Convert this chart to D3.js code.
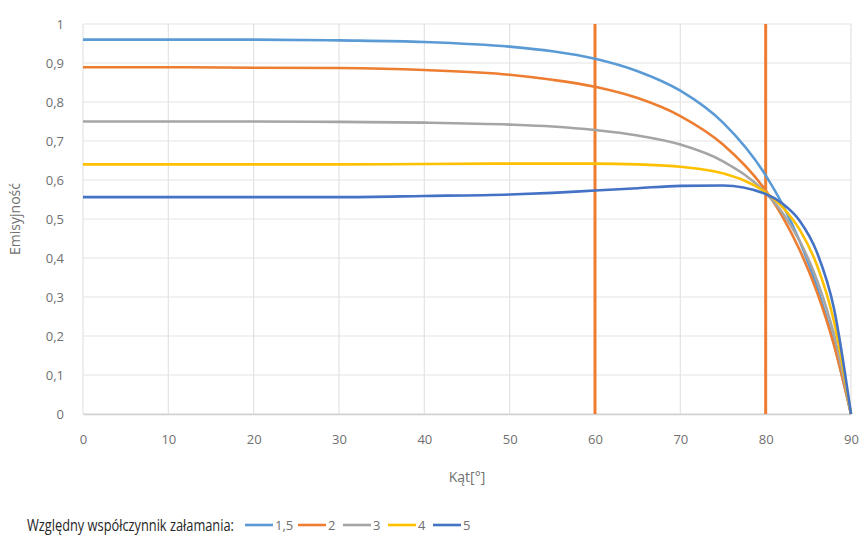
<!DOCTYPE html>
<html>
<head>
<meta charset="utf-8">
<script src="https://cdn.jsdelivr.net/npm/d3@7"></script>
<style>
  html, body { margin: 0; padding: 0; background: #fff; }
  svg { display: block; }
  text { font-family: "Open Sans", "Noto Sans", sans-serif; }
</style>
</head>
<body>
<svg id="chart" width="866" height="543"></svg>
<script>
// Emissivity vs. angle of observation for several relative refractive indices
const angles = [0, 10, 20, 30, 40, 50, 55, 60, 65, 70, 75, 80, 82, 84, 86, 88, 90];
const seriesNames = ["1,5", "2", "3", "4", "5"];
const emis15 = [0.960, 0.960, 0.960, 0.958, 0.954, 0.942, 0.930, 0.911, 0.879, 0.829, 0.747, 0.612, 0.536, 0.442, 0.326, 0.181, 0];
const emis2  = [0.889, 0.889, 0.888, 0.887, 0.882, 0.870, 0.857, 0.839, 0.810, 0.764, 0.691, 0.573, 0.505, 0.420, 0.313, 0.177, 0];
const emis3  = [0.750, 0.750, 0.750, 0.749, 0.747, 0.742, 0.737, 0.728, 0.714, 0.691, 0.648, 0.567, 0.515, 0.443, 0.344, 0.204, 0];
const emis4  = [0.640, 0.640, 0.640, 0.640, 0.641, 0.642, 0.642, 0.642, 0.640, 0.634, 0.617, 0.568, 0.530, 0.472, 0.382, 0.238, 0];
const emis5  = [0.556, 0.556, 0.556, 0.556, 0.559, 0.563, 0.567, 0.573, 0.579, 0.585, 0.586, 0.564, 0.539, 0.495, 0.415, 0.271, 0];
const seriesValues = [emis15, emis2, emis3, emis4, emis5];
const seriesColors = ["#5B9BD5", "#ED7D31", "#A5A5A5", "#FFC000", "#4472C4"];
const markerAngles = [60, 80];
const xTicks = [0, 10, 20, 30, 40, 50, 60, 70, 80, 90];
const yTicks = [0, 0.1, 0.2, 0.3, 0.4, 0.5, 0.6, 0.7, 0.8, 0.9, 1];
const xTitle = "Kąt[°]";
const yTitle = "Emisyjność";
const legendTitle = "Względny współczynnik załamania:";

const svg = d3.select("#chart");
const plot = { left: 83, right: 851, top: 24, bottom: 414 };

const x = d3.scaleLinear().domain([0, 90]).range([plot.left, plot.right]);
const y = d3.scaleLinear().domain([0, 1]).range([plot.bottom, plot.top]);
const fmt = v => d3.format("")(+v.toFixed(1)).replace(".", ",");

// Grid
const grid = svg.append("g");
grid.selectAll("line.h").data(yTicks).join("line")
  .attr("x1", plot.left).attr("x2", plot.right)
  .attr("y1", d => y(d)).attr("y2", d => y(d))
  .attr("stroke", "#e3e3e3").attr("stroke-width", 1.2);
grid.selectAll("line.v").data(xTicks).join("line")
  .attr("y1", plot.top).attr("y2", plot.bottom)
  .attr("x1", d => x(d)).attr("x2", d => x(d))
  .attr("stroke", "#e3e3e3").attr("stroke-width", 1.2);

// Axes
const xAxis = svg.append("g").attr("transform", `translate(0,${plot.bottom})`)
  .call(d3.axisBottom(x).tickValues(xTicks).tickSize(0).tickPadding(21).tickFormat(d => d));
xAxis.select(".domain").attr("stroke", "#d0d0d0").attr("stroke-width", 1.3);
xAxis.selectAll("text").attr("fill", "#707070").attr("font-size", 13)
  .attr("font-family", "'Open Sans', sans-serif");

const yAxis = svg.append("g").attr("transform", `translate(${plot.left},0)`)
  .call(d3.axisLeft(y).tickValues(yTicks).tickSize(0).tickPadding(19).tickFormat(fmt));
yAxis.select(".domain").remove();
yAxis.selectAll("text").attr("fill", "#707070").attr("font-size", 13)
  .attr("font-family", "'Open Sans', sans-serif");

// Reference angles
svg.append("g").selectAll("line").data(markerAngles).join("line")
  .attr("x1", d => x(d)).attr("x2", d => x(d))
  .attr("y1", plot.top).attr("y2", plot.bottom)
  .attr("stroke", "#ED7D31").attr("stroke-width", 3);

// Series
const line = d3.line()
  .x((d, i) => x(angles[i]))
  .y(d => y(d))
  .curve(d3.curveMonotoneX);
svg.append("g").selectAll("path").data(seriesValues).join("path")
  .attr("d", d => line(d))
  .attr("fill", "none")
  .attr("stroke", (d, i) => seriesColors[i])
  .attr("stroke-width", 2.6)
  .attr("stroke-linejoin", "round");

// Axis titles
svg.append("text").attr("x", (plot.left + plot.right) / 2).attr("y", 482)
  .attr("text-anchor", "middle").attr("fill", "#707070").attr("font-size", 14)
  .text(xTitle);
svg.append("text")
  .attr("transform", `translate(20,${(plot.top + plot.bottom) / 2}) rotate(-90)`)
  .attr("text-anchor", "middle").attr("fill", "#707070").attr("font-size", 14)
  .text(yTitle);

// Legend: title squeezed horizontally into a condensed look
const legend = svg.append("g");
const titleG = legend.append("g");
const titleText = titleG.append("text").attr("x", 0).attr("y", 0)
  .attr("fill", "#262626").attr("font-size", 16)
  .text(legendTitle);
const naturalW = titleText.node().getComputedTextLength();
const titleW = 207;
titleG.attr("transform", `translate(27,531) scale(${titleW / naturalW},1)`);

const legendX = [245, 298, 343, 388, 433];
const item = legend.selectAll("g.item").data(seriesNames).join("g")
  .attr("transform", (d, i) => `translate(${legendX[i]},525)`);
item.append("line").attr("x1", 0).attr("x2", 28).attr("y1", 0).attr("y2", 0)
  .attr("stroke", (d, i) => seriesColors[i]).attr("stroke-width", 2.6);
item.append("text").attr("x", 30).attr("y", 5)
  .attr("fill", "#707070").attr("font-size", 13)
  .text(d => d);
</script>
</body>
</html>
